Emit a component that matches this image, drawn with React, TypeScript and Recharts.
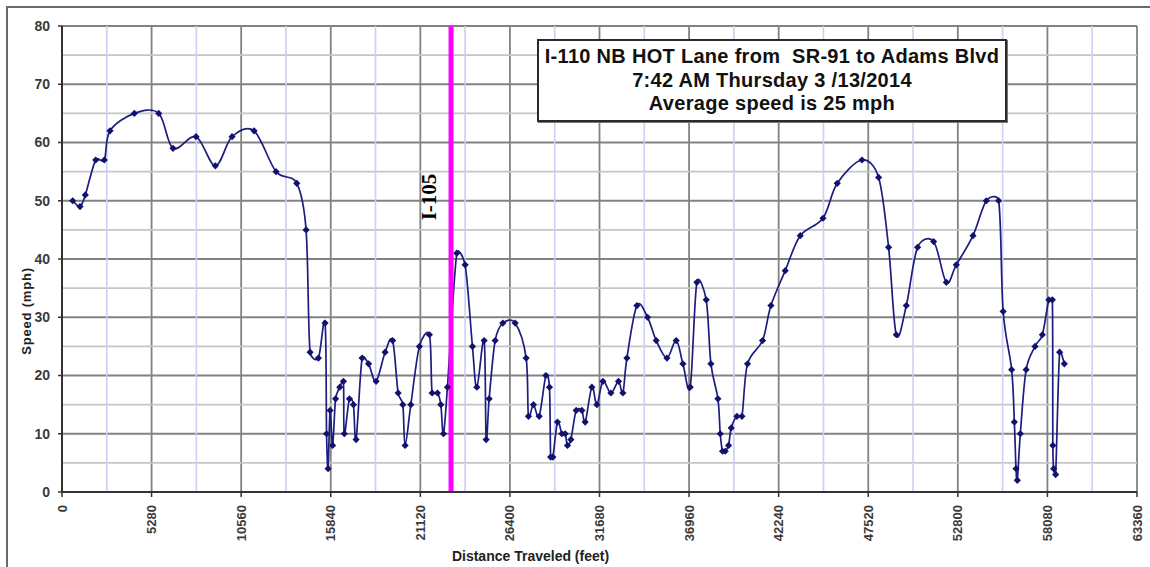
import React from 'react';
import { LineChart, Line, XAxis, YAxis, CartesianGrid, ReferenceLine } from 'recharts';

// Distance traveled (feet) and speed (mph)
const distanceFt = [
  631, 1061, 1374, 1987, 2494, 2830, 4263, 5701, 6545, 7901,
  9039, 10023, 11320, 12617, 13838, 14386, 14622, 15112, 15506, 15594,
  15683, 15801, 15949, 16126, 16373, 16586, 16638, 16939, 17175, 17334,
  17688, 18071, 18513, 19044, 19486, 19811, 20088, 20223, 20560, 21067,
  21656, 21815, 22128, 22328, 22482, 22718, 23271, 23761, 24191, 24451,
  24881, 24999, 25176, 25530, 25984, 26709, 27357, 27493, 27788, 28124,
  28519, 28731, 28802, 28932, 29203, 29462, 29657, 29793, 29993, 30305,
  30642, 30836, 31231, 31526, 31880, 32351, 32800, 33059, 33295, 33885,
  34510, 35023, 35653, 36201, 36597, 37027, 37420, 37970, 38247, 38660,
  38796, 38932, 39091, 39286, 39444, 39780, 40075, 40405, 41290, 41783,
  42627, 43512, 44850, 45694, 47150, 48130, 48719, 49173, 49763, 50429,
  51373, 52122, 52710, 53694, 54479, 55205, 55470, 55971, 56131, 56230,
  56307, 56484, 56826, 57351, 57781, 58164, 58370, 58400, 58447, 58565,
  58800, 59077,
];
const speedMph = [
  50, 49, 51, 57, 57, 62, 65, 65, 59, 61,
  56, 61, 62, 55, 53, 45, 24, 23, 29, 10,
  4, 14, 8, 16, 18, 19, 10, 16, 15, 9,
  23, 22, 19, 24, 26, 17, 15, 8, 15, 25,
  27, 17, 17, 15, 10, 18, 41, 39, 25, 18,
  26, 9, 16, 26, 29, 29, 23, 13, 15, 13,
  20, 18, 6, 6, 12, 10, 10, 8, 9, 14,
  14, 12, 18, 15, 19, 17, 19, 17, 23, 32,
  30, 26, 23, 26, 22, 18, 36, 33, 22, 16,
  10, 7, 7, 8, 11, 13, 13, 22, 26, 32,
  38, 44, 47, 53, 57, 54, 42, 27, 32, 42,
  43, 36, 39, 44, 50, 50, 31, 21, 12, 4,
  2, 10, 21, 25, 27, 33, 33, 8, 4, 3,
  24, 22,
];

const xTicks = [0, 5280, 10560, 15840, 21120, 26400, 31680, 36960, 42240, 47520, 52800, 58080, 63360];
const xMinorTicks = [2640, 7920, 13200, 18480, 23760, 29040, 34320, 39600, 44880, 50160, 55440, 60720];
const yTicks = [0, 10, 20, 30, 40, 50, 60, 70, 80];
const yMinorTicks = [5, 15, 25, 35, 45, 55, 65, 75];
const interchangeFt = 22930;
const interchangeLabel = 'I-105';
const titleLines = [
  'I-110 NB HOT Lane from  SR-91 to Adams Blvd',
  '7:42 AM Thursday 3 /13/2014',
  'Average speed is 25 mph',
];

const data = distanceFt.map((d, i) => ({ distance: d, speed: speedMph[i] }));

const FONT = '"Liberation Sans", Arial, sans-serif';

// Excel-like smoothed line: Bezier with tangents of 1/6 of the neighbour chord,
// capped at half the segment length (limits overshoot on sharp peaks)
const excelCurve: any = (context: any) => {
  let pts: number[][] = [];
  const dist = (a: number[], b: number[]) => Math.hypot(a[0] - b[0], a[1] - b[1]);
  return {
    areaStart() {},
    areaEnd() {},
    lineStart() {
      pts = [];
    },
    point(x: number, y: number) {
      pts.push([+x, +y]);
    },
    lineEnd() {
      const n = pts.length;
      if (!n) return;
      context.moveTo(pts[0][0], pts[0][1]);
      for (let i = 0; i < n - 1; i++) {
        const p0 = pts[i - 1] || pts[i];
        const p1 = pts[i];
        const p2 = pts[i + 1];
        const p3 = pts[i + 2] || p2;
        const d12 = dist(p1, p2);
        const d02 = dist(p0, p2);
        const d13 = dist(p1, p3);
        const s1 = d02 > 0 ? Math.min(d02 / 6, d12 / 2) / d02 : 0;
        const s2 = d13 > 0 ? Math.min(d13 / 6, d12 / 2) / d13 : 0;
        context.bezierCurveTo(
          p1[0] + (p2[0] - p0[0]) * s1,
          p1[1] + (p2[1] - p0[1]) * s1,
          p2[0] - (p3[0] - p1[0]) * s2,
          p2[1] - (p3[1] - p1[1]) * s2,
          p2[0],
          p2[1]
        );
      }
    },
  };
};

const Diamond = (props: any) => {
  const { cx, cy, index } = props;
  if (cx == null || cy == null) return null;
  const s = 3.6;
  return (
    <path
      key={`d-${index}`}
      d={`M${cx},${cy - s}L${cx + s},${cy}L${cx},${cy + s}L${cx - s},${cy}Z`}
      fill="#12126e"
    />
  );
};

const XTick = (props: any) => {
  const { x, y, payload } = props;
  return (
    <g transform={`translate(${x},${y})`}>
      <text
        transform="rotate(-90)"
        x={-6}
        y={0}
        textAnchor="end"
        dominantBaseline="central"
        fontSize={13}
        fontWeight="bold"
        fill="#3a3a3a"
        fontFamily={FONT}
      >
        {payload.value}
      </text>
    </g>
  );
};

const YLabel = (props: any) => {
  const vb = props.viewBox || {};
  const cx = vb.x + 4;
  const cy = vb.y + vb.height / 2 + 52;
  return (
    <text
      x={cx}
      y={cy}
      transform={`rotate(-90 ${cx} ${cy})`}
      textAnchor="middle"
      dominantBaseline="central"
      fontSize={13}
      fontWeight="bold"
      letterSpacing={0.8}
      fill="#222"
      fontFamily={FONT}
    >
      Speed (mph)
    </text>
  );
};

const XLabel = (props: any) => {
  const vb = props.viewBox || {};
  return (
    <text
      x={vb.x + vb.width / 2 - 69}
      y={vb.y + 69}
      textAnchor="middle"
      fontSize={14}
      fontWeight="bold"
      fill="#222"
      fontFamily={FONT}
    >
      Distance Traveled (feet)
    </text>
  );
};

const InterchangeLabel = (props: any) => {
  const vb = props.viewBox || {};
  const cx = vb.x - 22;
  const cy = vb.y + 171;
  return (
    <text
      x={cx}
      y={cy}
      transform={`rotate(-90 ${cx} ${cy})`}
      textAnchor="middle"
      dominantBaseline="central"
      fontSize={21}
      fontWeight="bold"
      fill="#000"
      fontFamily='"Liberation Serif", "Times New Roman", serif'
    >
      {interchangeLabel}
    </text>
  );
};

export default function App() {
  return (
    <div
      style={{
        position: 'absolute',
        left: 0,
        top: 0,
        width: 1150,
        height: 567,
        overflow: 'hidden',
        background: '#fff',
      }}
    >
      <div
        style={{
          position: 'absolute',
          left: 6,
          top: 6,
          width: 1200,
          height: 700,
          border: '2px solid #6a6a6a',
        }}
      />
      <div style={{ position: 'absolute', left: 0, top: 0 }}>
        <LineChart
          width={1150}
          height={567}
          data={data}
          margin={{ top: 26, right: 13, bottom: 3, left: 22 }}
        >
          <CartesianGrid stroke="#828282" strokeWidth={1.8} />
          {yMinorTicks.map((v) => (
            <ReferenceLine key={`ym${v}`} y={v} stroke="#c6c6c6" strokeWidth={1.6} zIndex={-50} />
          ))}
          {xMinorTicks.map((v) => (
            <ReferenceLine key={`xm${v}`} x={v} stroke="#cdcdf5" strokeWidth={1.6} zIndex={-50} />
          ))}
          <XAxis
            type="number"
            dataKey="distance"
            domain={[0, 63360]}
            ticks={xTicks}
            interval={0}
            height={72}
            tickSize={5}
            tick={<XTick />}
            axisLine={{ stroke: '#333', strokeWidth: 2 }}
            tickLine={{ stroke: '#333', strokeWidth: 1.5 }}
            label={<XLabel />}
          />
          <YAxis
            type="number"
            domain={[0, 80]}
            ticks={yTicks}
            interval={0}
            width={40}
            tickSize={4}
            tickMargin={8}
            tick={{ fontSize: 14, fontWeight: 'bold', fill: '#3a3a3a', fontFamily: FONT }}
            axisLine={{ stroke: '#333', strokeWidth: 2 }}
            tickLine={{ stroke: '#333', strokeWidth: 1.5 }}
            label={<YLabel />}
          />
          <Line
            dataKey="speed"
            type={excelCurve}
            stroke="#1d1d80"
            strokeWidth={1.7}
            dot={Diamond}
            activeDot={false}
            isAnimationActive={false}
          />
          <ReferenceLine
            x={interchangeFt}
            stroke="#ff00ff"
            strokeWidth={5}
            zIndex={450}
            label={<InterchangeLabel />}
          />
        </LineChart>
      </div>
      <div
        style={{
          position: 'absolute',
          left: 537,
          top: 39,
          width: 466,
          height: 75,
          border: '2px solid #2a2a2a',
          boxShadow: '1px 1px 0 #777',
          background: '#fff',
          fontFamily: FONT,
          fontWeight: 'bold',
          fontSize: 20,
          letterSpacing: 0.3,
          lineHeight: '23.5px',
          textAlign: 'center',
          paddingTop: 4,
          boxSizing: 'content-box',
          color: '#111',
        }}
      >
        {titleLines.map((t) => (
          <div key={t} style={{ whiteSpace: 'pre' }}>
            {t}
          </div>
        ))}
      </div>
    </div>
  );
}
